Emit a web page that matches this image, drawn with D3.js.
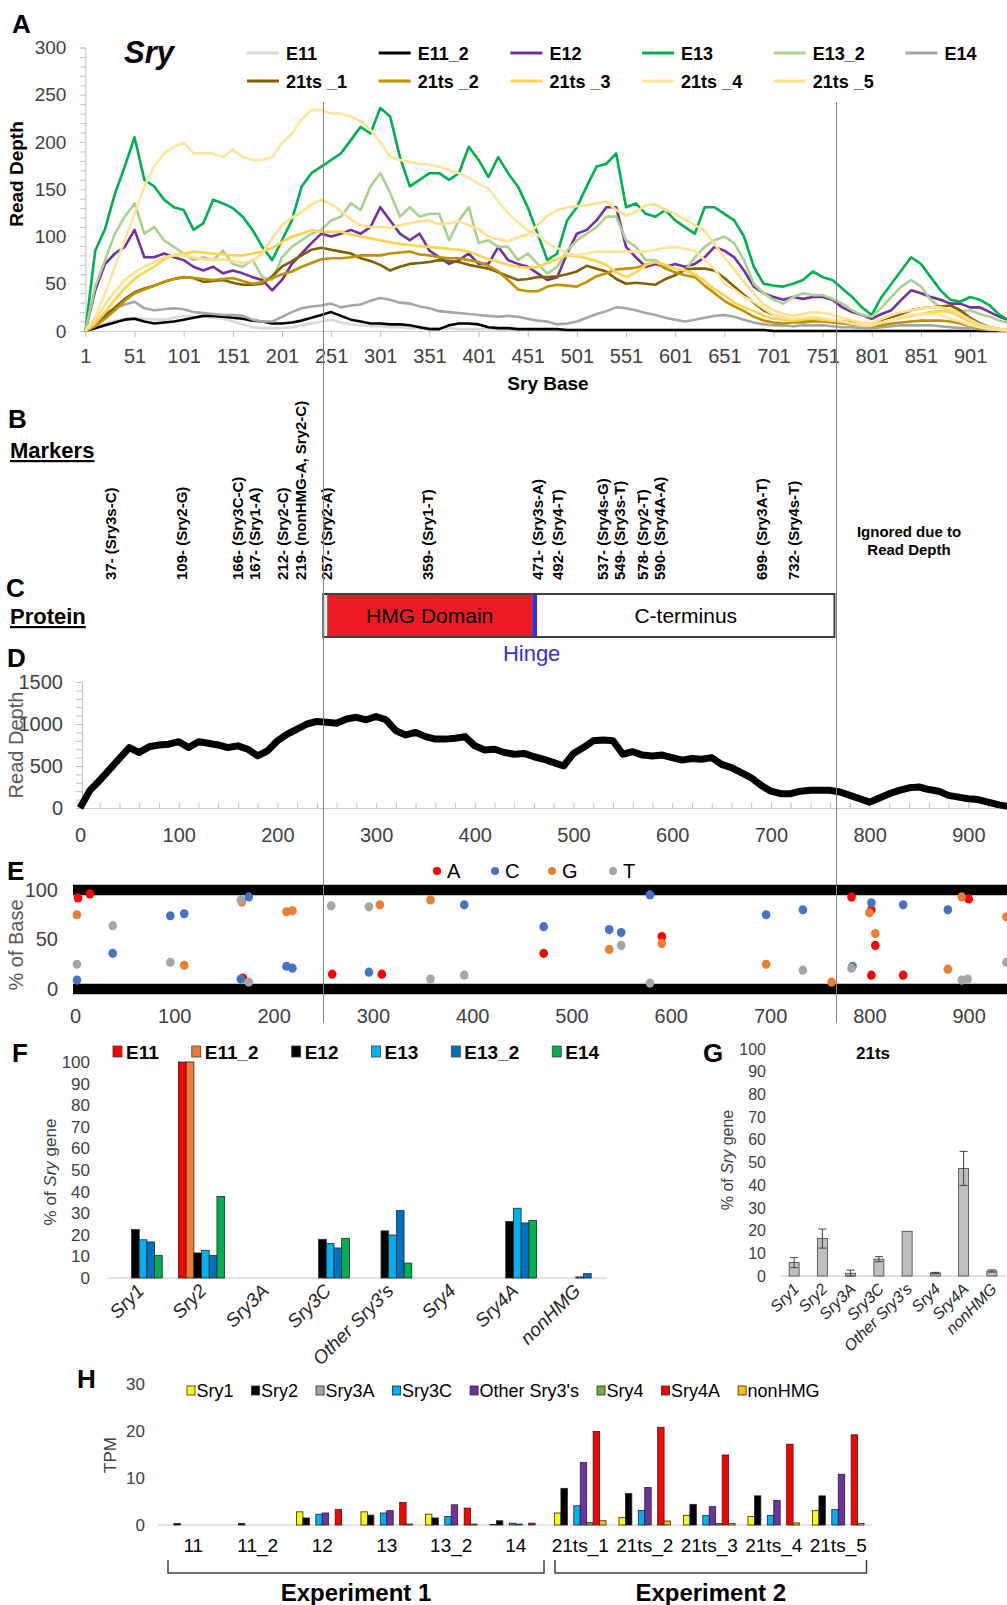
<!DOCTYPE html>
<html><head><meta charset="utf-8">
<script src="https://cdn.jsdelivr.net/npm/d3@7"></script>
<style>body{margin:0;background:#fff}svg{display:block}</style>
</head><body>
<svg id="c" width="1007" height="1605"></svg>
<script>
// ---------------- DATA ----------------
// Panel A: read depth per sample, sampled every 10 bases (1, 11, ... 941)
const basesA = d3.range(1, 942, 10);
const seriesNamesA = ['E11','E11_2','E12','E13','E13_2','E14','21ts_1','21ts_2','21ts_3','21ts_4','21ts_5'];
const depthE11 = [0,4,8,11,13,14,13,12,12,14,16,15,15,14,13,10,7,4,3,3,3,4,6,8,10,12,9,7,6,5,5,4,4,3,3,3,3,3,2,2,2,2,1,1,1,1,
  1,1,1,1,1,1,1,1,1,1,1,1,1,1,1,1,1,1,1,1,1,1,1,1,0,0,0,0,0,0,0,0,0,0,0,0,0,0,0,0,0,0,0,0,0,0,0,0,0];
const depthE11_2 = [0,3,6,9,12,13,10,8,9,10,12,14,16,16,15,14,13,11,10,8,8,9,11,14,17,20,16,12,10,8,8,7,7,6,4,2,2,6,8,8,7,4,3,3,2,2,2,2,2,1,1,
  1,1,1,1,1,1,1,1,1,1,1,1,1,1,1,1,1,1,1,0,0,0,0,0,0,0,0,0,0,0,0,0,0,0,0,0,0,0,0,0,0,0,0,0];
const depthE12 = [0,43,71,82,89,107,78,78,82,78,75,68,64,68,61,64,61,57,54,43,54,71,82,93,103,100,103,107,103,110,131,117,103,96,103,85,78,71,75,82,71,71,89,75,71,68,61,54,57,82,103,107,117,131,131,89,78,68,71,68,71,68,71,78,89,85,78,64,47,40,36,33,36,34,36,36,33,25,20,17,13,18,22,33,43,40,36,33,29,29,25,25,20,15,11];
const depthE13 = [0,85,108,145,174,205,160,153,139,131,128,107,114,139,135,130,121,107,89,75,96,117,153,167,174,181,188,202,216,209,236,227,184,153,160,167,167,160,167,195,181,163,184,167,153,131,103,75,82,117,131,153,174,177,188,131,135,124,121,128,117,110,103,131,131,124,117,100,68,50,48,47,50,54,63,57,54,45,36,25,17,36,50,64,78,71,57,43,33,31,36,33,27,17,11];
const depthE13_2 = [0,47,75,103,121,135,103,110,96,89,82,75,78,75,85,71,68,75,57,54,78,89,96,103,107,117,121,135,128,153,167,146,121,131,121,124,124,96,117,131,93,96,89,89,75,82,71,61,68,85,96,103,110,121,121,96,89,75,75,68,61,64,78,89,96,100,93,75,50,40,33,29,36,40,38,38,34,29,22,17,15,25,36,47,54,47,33,25,22,20,22,18,15,11,8];
const depthE14 = [0,10,18,24,28,31,24,22,23,24,23,20,19,18,17,17,16,12,10,10,15,20,24,26,27,29,25,27,28,32,35,33,30,29,26,24,21,20,19,18,17,16,15,16,15,13,11,10,7,8,10,14,18,21,25,24,22,19,17,14,12,10,12,14,16,17,15,12,9,7,6,6,5,6,6,6,5,4,4,3,3,4,5,6,6,6,6,5,4,3,3,2,1,1,0];
const depth21ts_1 = [0,6,16,25,34,41,45,48,52,55,57,56,52,53,54,51,49,49,50,58,68,74,80,86,88,86,84,82,77,74,70,64,68,71,72,73,75,74,73,70,68,66,62,58,54,55,57,57,58,60,63,69,66,63,55,50,51,50,49,55,59,65,66,66,64,56,47,38,30,22,17,14,12,11,12,12,11,10,9,8,6,10,14,18,22,24,25,26,27,22,14,8,4,2,1];
const depth21ts_2 = [0,5,13,22,32,40,44,48,52,55,57,56,55,54,55,56,53,50,52,56,60,63,68,72,76,77,77,78,80,80,80,82,83,84,81,80,78,77,77,75,73,69,63,54,44,42,42,47,49,48,47,52,58,61,65,66,67,70,73,66,62,59,57,48,40,32,26,21,15,11,9,8,9,9,10,10,9,8,7,6,5,6,8,9,10,11,11,11,10,8,5,3,2,1,0];
const depth21ts_3 = [0,8,20,33,45,55,62,68,76,80,82,84,83,82,81,80,80,82,84,88,94,100,103,107,105,105,105,102,100,98,96,94,92,91,90,89,88,87,86,84,80,76,73,70,68,67,68,72,76,80,79,77,74,70,62,57,62,70,73,70,66,64,60,53,44,38,30,25,21,16,13,12,11,12,13,12,11,10,8,7,6,9,12,14,16,18,20,21,20,15,10,6,3,1,0];
const depth21ts_4 = [0,15,40,68,96,124,153,174,188,195,199,188,188,188,184,192,184,181,181,184,199,209,224,234,234,230,230,227,222,213,200,185,181,179,177,176,174,170,167,162,156,151,137,125,115,106,102,93,88,82,80,82,84,84,84,84,84,84,86,88,89,87,85,75,66,50,44,36,31,24,17,14,13,14,15,14,12,10,8,6,6,9,12,15,17,18,18,17,13,10,6,4,2,1,1];
const depth21ts_5 = [0,12,28,42,54,62,68,73,78,80,80,78,76,75,76,74,72,74,82,98,112,120,126,134,139,134,127,118,112,110,110,109,112,114,116,117,113,114,116,112,108,100,97,95,99,102,112,122,128,131,132,133,135,137,128,122,126,133,134,128,124,118,112,106,92,78,65,52,40,28,22,18,16,18,20,19,17,14,11,9,8,13,17,20,22,24,25,25,23,18,12,7,4,2,1];
const ticksA_x = [1,51,101,151,201,251,301,351,401,451,501,551,601,651,701,751,801,851,901];
const ticksA_y = [0,50,100,150,200,250,300];

// Region boundaries (Sry base) and protein domains
const regionBounds = [243, 765];
const proteinParts = [
  {name:'HMG Domain', start:247, end:455.5},
  {name:'Hinge', start:455.5, end:460.5},
  {name:'C-terminus', start:460.5, end:763}
];
const proteinBox = [243, 763];

// Panel B markers
const markerBases = [37,109,166,167,212,219,257,359,471,492,537,549,578,590,699,732];
const markerLabels = ['37- (Sry3s-C)','109- (Sry2-G)','166- (Sry3C-C)','167- (Sry1-A)','212- (Sry2-C)','219- (nonHMG-A, Sry2-C)','257- (Sry2-A)','359- (Sry1-T)','471- (Sry3s-A)','492- (Sry4-T)','537- (Sry4s-G)','549- (Sry3s-T)','578- (Sry2-T)','590- (Sry4A-A)','699- (Sry3A-T)','732- (Sry4s-T)'];

// Panel D: total read depth, every 10 bases (0..940)
const basesD = d3.range(0, 941, 10);
const depthTotal = [0,210,330,460,590,720,660,730,750,760,790,720,790,770,750,720,740,700,620,680,800,880,940,1000,1030,1020,1010,1060,1080,1050,1090,1050,920,870,900,850,820,820,830,850,740,690,700,660,640,650,610,580,540,500,650,720,800,810,800,640,670,630,620,630,600,570,590,580,600,520,480,420,360,270,200,170,170,200,210,210,210,190,150,110,70,120,170,210,240,250,220,200,150,130,110,100,70,40,20];
const ticksD_y = [0,500,1000,1500];
const ticksD_x = [0,100,200,300,400,500,600,700,800,900];

// Panel E: % of base (points: [base, percent])
const baseNames = ['A','C','G','T'];
const pctA = [[3,92],[15,96],[169,11],[259,15],[309,15],[472,36],[591,53],[782,93],[802,80],[806,44],[802,14],[834,14],[900,91]];
const pctC = [[2,9],[38,36],[96,74],[110,76],[167,10],[175,93],[213,23],[219,21],[296,17],[392,85],[472,63],[538,60],[550,57],[579,95],[696,75],[733,80],[783,23],[802,87],[834,85],[879,80]];
const pctG = [[2,75],[110,24],[168,88],[213,78],[219,79],[307,85],[358,90],[538,40],[591,46],[696,25],[762,7],[800,77],[806,56],[879,20],[893,93],[938,73]];
const pctT = [[2,25],[38,64],[96,27],[167,90],[175,7],[258,84],[296,83],[358,10],[392,14],[550,44],[579,6],[733,19],[782,21],[893,9],[899,10],[938,27]];
const bandLevels = [0, 100];
const ticksE_y = [0,50,100];

// Panel F: % of Sry gene per isoform
const isoforms = ['Sry1','Sry2','Sry3A','Sry3C',"Other Sry3's",'Sry4','Sry4A','nonHMG'];
const stagesF = ['E11','E11_2','E12','E13','E13_2','E14'];
const pctE11   = [0,100,0,0,0,0,0,0];
const pctE11_2 = [0,100,0,0,0,0,0,0];
const pctE12   = [22.4,11.6,0,17.9,21.8,0,26.2,0];
const pctE13   = [17.7,12.8,0,16.0,19.9,0,32.3,0.5];
const pctE13_2 = [16.7,10.5,0,13.9,31.2,0,25.5,2.0];
const pctE14   = [10.5,37.8,0,18.4,6.9,0,26.7,0];
const ticksF = [0,10,20,30,40,50,60,70,80,90,100];

// Panel G: 21ts mean and error
const pct21ts = [5.9,16.5,1.2,7.4,19.7,1.3,47.4,2.2];
const err21ts = [2.2,4.2,1.4,1.1,0,0.3,7.5,0.5];

// Panel H: TPM
const samplesH = ['11','11_2','12','13','13_2','14','21ts_1','21ts_2','21ts_3','21ts_4','21ts_5'];
const tpmSry1   = [0,0,2.8,2.8,2.3,0.1,2.55,1.55,2.05,1.8,3.05];
const tpmSry2   = [0.3,0.3,1.5,2.1,1.5,0.9,7.8,6.7,4.4,6.2,6.2];
const tpmSry3A  = [0,0,0,0,0,0,0,0,0,0,0];
const tpmSry3C  = [0,0,2.3,2.55,1.8,0.4,4.1,3.1,2.05,2.05,3.3];
const tpmOther  = [0,0,2.55,3.05,4.3,0.2,13.3,8.0,3.9,5.2,10.8];
const tpmSry4   = [0,0,0,0,0,0,0.5,0,0.3,0,0];
const tpmSry4A  = [0,0,3.3,4.8,3.6,0.4,19.9,20.8,14.9,17.2,19.2];
const tpmNonHMG = [0,0,0,0.2,0.2,0,0.9,0.85,0.3,0.45,0.3];
const ticksH = [0,10,20,30];
const experiments = [{name:'Experiment 1', from:'11', to:'14'},{name:'Experiment 2', from:'21ts_1', to:'21ts_5'}];

// ---------------- STYLES ----------------
const FONT = '"Liberation Sans", Arial, Helvetica, sans-serif';
const TICK = '#404040';
const colorsA = {'E11':'#d9d9d9','E11_2':'#000000','E12':'#7030a0','E13':'#00b050','E13_2':'#a9d18e','E14':'#a5a5a5',
  '21ts_1':'#7f6000','21ts_2':'#bf9000','21ts_3':'#ffd34f','21ts_4':'#ffe49c','21ts_5':'#ffe08c'};
const colorsBase = {A:'#ff0000',C:'#4472c4',G:'#ed7d31',T:'#a5a5a5'};
const colorsF = {'E11':'#ff0000','E11_2':'#ed7d31','E12':'#000000','E13':'#00b0f0','E13_2':'#0070c0','E14':'#00b050'};
const colorsH = {'Sry1':'#ffff00','Sry2':'#000000','Sry3A':'#a5a5a5','Sry3C':'#00b0f0',"Other Sry3's":'#7030a0','Sry4':'#70ad47','Sry4A':'#ff0000','nonHMG':'#ffc000'};

const svg = d3.select('#c').attr('font-family', FONT);
const fmt = d3.format('d');

function txt(g, x, y, s, o = {}) {
  const t = g.append('text').attr('x', x).attr('y', y).text(s)
    .attr('font-size', o.size || 16).attr('fill', o.fill || '#000')
    .attr('text-anchor', o.anchor || 'start');
  if (o.weight) t.attr('font-weight', o.weight);
  if (o.style) t.attr('font-style', o.style);
  if (o.dy) t.attr('dy', o.dy);
  if (o.deco) t.attr('text-decoration', o.deco);
  if (o.transform) t.attr('transform', o.transform);
  return t;
}
function styleAxis(g, size, opts = {}) {
  g.attr('font-family', FONT).attr('font-size', size).attr('color', opts.color || TICK);
  if (opts.noDomain) g.select('.domain').remove();
  else g.select('.domain').attr('stroke', opts.domainColor || '#bfbfbf').attr('stroke-width', opts.domainWidth || 1);
  g.selectAll('.tick line').attr('stroke', opts.tickColor || '#bfbfbf');
}
// panel letters
const letters = [['A',12,33],['B',8,428],['C',6,597],['D',7,667],['E',7,880],['F',12,1062],['G',703,1062],['H',77,1388]];
letters.forEach(([l,x,y]) => txt(svg, x, y, l, {size:26, weight:'bold'}));

// ---------------- PANEL A ----------------
const xA = d3.scaleLinear().domain([1, 941]).range([85.4, 1009.4]);
const yA = d3.scaleLinear().domain([0, 300]).range([331, 47.5]);
const gA = svg.append('g');
gA.append('g').attr('transform', `translate(${xA(1)},0)`)
  .call(d3.axisLeft(yA).tickValues(d3.range(0, 301, 10)).tickSize(5).tickFormat(''))
  .call(g => styleAxis(g, 19));
gA.append('g').attr('transform', `translate(${xA(1)},0)`)
  .call(d3.axisLeft(yA).tickValues(ticksA_y).tickSize(0).tickPadding(19).tickFormat(fmt))
  .call(g => styleAxis(g, 19, {noDomain:true}));
gA.append('g').attr('transform', `translate(0,${yA(0)})`)
  .call(d3.axisBottom(xA).tickValues(ticksA_x).tickSize(6).tickSizeOuter(0).tickPadding(12).tickFormat(fmt))
  .call(g => styleAxis(g, 20, {domainColor:'#d0d0d0'}));
txt(gA, 548, 390, 'Sry Base', {size:19, weight:'bold', anchor:'middle'});
txt(gA, 0, 0, 'Read Depth', {size:19, weight:'bold', anchor:'middle', transform:'translate(23,174) rotate(-90)'});
txt(gA, 124, 63, 'Sry', {size:31, weight:'bold', style:'italic'});

const depthA = {'E11':depthE11,'E11_2':depthE11_2,'E12':depthE12,'E13':depthE13,'E13_2':depthE13_2,'E14':depthE14,
  '21ts_1':depth21ts_1,'21ts_2':depth21ts_2,'21ts_3':depth21ts_3,'21ts_4':depth21ts_4,'21ts_5':depth21ts_5};
const lineA = d3.line().x((d, i) => xA(basesA[i])).y(d => yA(d)).curve(d3.curveLinear);
seriesNamesA.forEach(n => {
  gA.append('path').attr('d', lineA(depthA[n])).attr('fill', 'none')
    .attr('stroke', colorsA[n]).attr('stroke-width', 2.6).attr('stroke-linejoin', 'round');
});
// legend A
seriesNamesA.forEach((n, i) => {
  const col = i < 6 ? i : i - 6, row = i < 6 ? 0 : 1;
  const x = 247 + col * 131.7, y = 53 + row * 28;
  gA.append('line').attr('x1', x).attr('x2', x + 32).attr('y1', y).attr('y2', y)
    .attr('stroke', colorsA[n]).attr('stroke-width', 3);
  txt(gA, x + 39, y + 7, n.startsWith('21ts') ? n.replace('_', ' _') : n, {size:18, weight:'bold'});
});

// ---------------- PANEL B ----------------
const gB = svg.append('g');
txt(gB, 10, 458, 'Markers', {size:22, weight:'bold', deco:'underline'});
let lastX = -100;
const markerX = markerBases.map(b => {
  let x = xA(b) - 10;
  if (x < lastX + 17.5) x = lastX + 17.5;
  lastX = x;
  return x;
});
markerLabels.forEach((s, i) => {
  txt(gB, 0, 0, s, {size:15, weight:'bold', dy:'0.35em', transform:`translate(${markerX[i]},580) rotate(-90)`});
});
txt(gB, 909, 537, 'Ignored due to', {size:15, weight:'bold', anchor:'middle'});
txt(gB, 909, 555, 'Read Depth', {size:15, weight:'bold', anchor:'middle'});

// ---------------- PANEL C ----------------
const gC = svg.append('g');
txt(gC, 10, 624, 'Protein', {size:22, weight:'bold', deco:'underline'});
gC.append('rect').attr('x', xA(proteinBox[0])).attr('y', 594).attr('width', xA(proteinBox[1]) - xA(proteinBox[0]))
  .attr('height', 43).attr('fill', '#fff').attr('stroke', '#404040').attr('stroke-width', 2);
const partFill = {'HMG Domain':'#ed1c24', 'Hinge':'#3333cc', 'C-terminus':'none'};
proteinParts.forEach(p => {
  if (partFill[p.name] !== 'none')
    gC.append('rect').attr('x', xA(p.start)).attr('y', 595).attr('width', xA(p.end) - xA(p.start))
      .attr('height', 41).attr('fill', partFill[p.name]);
});
txt(gC, (xA(proteinParts[0].start) + xA(proteinParts[0].end)) / 2, 623, 'HMG Domain', {size:21, anchor:'middle'});
txt(gC, (xA(proteinParts[2].start) + xA(proteinParts[2].end)) / 2, 623, 'C-terminus', {size:21, anchor:'middle'});
txt(gC, (xA(proteinParts[1].start) + xA(proteinParts[1].end)) / 2 - 3, 661, 'Hinge', {size:22, anchor:'middle', fill:'#3333cc'});

// ---------------- PANEL D ----------------
const xD = d3.scaleLinear().domain([0, 940]).range([80, 1007.8]);
const yD = d3.scaleLinear().domain([0, 1500]).range([808, 682]);
const gD = svg.append('g');
gD.append('g').attr('transform', `translate(82,0)`)
  .call(d3.axisLeft(yD).tickValues(d3.range(0, 1501, 100)).tickSize(6).tickFormat(''))
  .call(g => styleAxis(g, 20));
gD.append('g').attr('transform', `translate(82,0)`)
  .call(d3.axisLeft(yD).tickValues(ticksD_y).tickSize(0).tickPadding(19).tickFormat(fmt))
  .call(g => styleAxis(g, 20, {noDomain:true}));
gD.append('g').attr('transform', `translate(0,${yD(0)})`)
  .call(d3.axisBottom(xD).tickValues(d3.range(0, 941, 20)).tickSize(-5).tickSizeOuter(0).tickFormat(''))
  .call(g => styleAxis(g, 20, {domainColor:'#c8c8c8'}));
gD.append('g').attr('transform', `translate(0,${yD(0)})`)
  .call(d3.axisBottom(xD).tickValues(ticksD_x).tickSize(0).tickPadding(20).tickFormat(fmt))
  .call(g => styleAxis(g, 20, {noDomain:true}));
gD.append('path').attr('d', d3.line().x((d, i) => xD(basesD[i])).y(d => yD(d))(depthTotal))
  .attr('fill', 'none').attr('stroke', '#000').attr('stroke-width', 7).attr('stroke-linejoin', 'round');
txt(gD, 0, 0, 'Read  Depth', {size:20, fill:'#595959', anchor:'middle', transform:'translate(23,745) rotate(-90)'});

// ---------------- PANEL E ----------------
const xE = d3.scaleLinear().domain([0, 940]).range([75, 1008.4]);
const yE = d3.scaleLinear().domain([0, 100]).range([989, 890]);
const gE = svg.append('g');
gE.append('g').attr('transform', `translate(75,0)`)
  .call(d3.axisLeft(yE).tickValues(ticksE_y).tickSize(0).tickPadding(17).tickFormat(fmt))
  .call(g => styleAxis(g, 20, {noDomain:true}));
gE.append('g').attr('transform', `translate(0,${yE(0)})`)
  .call(d3.axisBottom(xE).tickValues(ticksD_x).tickSize(0).tickPadding(20).tickFormat(fmt))
  .call(g => styleAxis(g, 20, {noDomain:true}));
bandLevels.forEach(v => {
  gE.append('line').attr('x1', xE(0) - 2).attr('x2', xE(940)).attr('y1', yE(v)).attr('y2', yE(v))
    .attr('stroke', '#000').attr('stroke-width', 10.5);
});
const pctByBase = {A:pctA, C:pctC, G:pctG, T:pctT};
baseNames.forEach(b => {
  gE.selectAll(null).data(pctByBase[b]).enter().append('ellipse')
    .attr('cx', d => xE(d[0])).attr('cy', d => yE(d[1])).attr('rx', 4.3).attr('ry', 4.6)
    .attr('fill', colorsBase[b]);
});
baseNames.forEach((b, i) => {
  const x = [437, 495, 552, 613][i];
  gE.append('circle').attr('cx', x).attr('cy', 871).attr('r', 4).attr('fill', colorsBase[b]);
  txt(gE, x + 10, 878, b, {size:20});
});
txt(gE, 0, 0, '% of Base', {size:20, fill:'#595959', anchor:'middle', transform:'translate(23,945) rotate(-90)'});

// region guide lines (on top)
regionBounds.forEach(b => {
  svg.append('line').attr('x1', Math.round(xA(b)) + 0.5).attr('x2', Math.round(xA(b)) + 0.5)
    .attr('y1', 102).attr('y2', 1023).attr('stroke', '#808080').attr('stroke-width', 1);
});

// ---------------- PANEL F ----------------
const gF = svg.append('g');
const yF = d3.scaleLinear().domain([0, 100]).range([1278, 1062]);
const x0F = d3.scaleBand().domain(isoforms).range([108, 607]).paddingInner(0.26).paddingOuter(0.13);
const x1F = d3.scaleBand().domain(stagesF).range([0, x0F.bandwidth()]);
const pctF = {'E11':pctE11,'E11_2':pctE11_2,'E12':pctE12,'E13':pctE13,'E13_2':pctE13_2,'E14':pctE14};
gF.append('g').attr('transform', `translate(108,0)`)
  .call(d3.axisLeft(yF).tickValues(ticksF).tickSize(0).tickPadding(18).tickFormat(fmt))
  .call(g => styleAxis(g, 17, {noDomain:true}));
gF.append('line').attr('x1', 108).attr('x2', 607).attr('y1', yF(0)).attr('y2', yF(0)).attr('stroke', '#d9d9d9').attr('stroke-width', 1.5);
stagesF.forEach(s => {
  isoforms.forEach((c, i) => {
    const v = pctF[s][i];
    if (v <= 0) return;
    gF.append('rect').attr('x', x0F(c) + x1F(s)).attr('y', yF(v)).attr('width', x1F.bandwidth())
      .attr('height', yF(0) - yF(v)).attr('fill', colorsF[s]).attr('stroke', '#262626').attr('stroke-width', 0.8);
  });
});
isoforms.forEach(c => {
  txt(gF, 0, 0, c, {size:19, style:'italic', anchor:'end', fill:'#262626',
    transform:`translate(${x0F(c) + x0F.bandwidth() / 2 + 6},1292) rotate(-45)`});
});
{
  const t = gF.append('text').attr('transform', 'translate(56,1172) rotate(-90)').attr('text-anchor', 'middle')
    .attr('font-size', 17).attr('fill', '#404040');
  t.append('tspan').text('% of ');
  t.append('tspan').attr('font-style', 'italic').text('Sry');
  t.append('tspan').text(' gene');
}
// legend F (flowing)
{
  let x = 113;
  stagesF.forEach(s => {
    gF.append('rect').attr('x', x).attr('y', 1046).attr('width', 9).attr('height', 11)
      .attr('fill', colorsF[s]).attr('stroke', '#404040').attr('stroke-width', 0.8);
    const t = txt(gF, x + 13, 1059, s, {size:19, weight:'bold'});
    x = x + 13 + t.node().getComputedTextLength() + 33;
  });
}

// ---------------- PANEL G ----------------
const gG = svg.append('g');
const yG = d3.scaleLinear().domain([0, 100]).range([1276, 1049]);
const xG = d3.scaleBand().domain(isoforms).range([780, 1006]);
gG.append('g').attr('transform', `translate(780,0)`)
  .call(d3.axisLeft(yG).tickValues(ticksF).tickSize(0).tickPadding(14).tickFormat(fmt))
  .call(g => styleAxis(g, 16, {noDomain:true}));
gG.append('line').attr('x1', 780).attr('x2', 1006).attr('y1', yG(0)).attr('y2', yG(0)).attr('stroke', '#d9d9d9').attr('stroke-width', 1.5);
isoforms.forEach((c, i) => {
  const cx = xG(c) + xG.bandwidth() / 2, v = pct21ts[i], e = err21ts[i];
  gG.append('rect').attr('x', cx - 5).attr('y', yG(v)).attr('width', 10).attr('height', yG(0) - yG(v))
    .attr('fill', '#bfbfbf').attr('stroke', '#404040').attr('stroke-width', 0.8);
  if (e > 0) {
    gG.append('line').attr('x1', cx).attr('x2', cx).attr('y1', yG(Math.max(0, v - e))).attr('y2', yG(v + e)).attr('stroke', '#404040');
    [v - e, v + e].forEach(w => gG.append('line').attr('x1', cx - 4).attr('x2', cx + 4)
      .attr('y1', yG(Math.max(0, w))).attr('y2', yG(Math.max(0, w))).attr('stroke', '#404040'));
  }
  txt(gG, 0, 0, c, {size:16, style:'italic', anchor:'end', fill:'#262626',
    transform:`translate(${cx + 6},1290) rotate(-45)`});
});
txt(gG, 873, 1059, '21ts', {size:17, weight:'bold', anchor:'middle'});
{
  const t = gG.append('text').attr('transform', 'translate(733,1160) rotate(-90)').attr('text-anchor', 'middle')
    .attr('font-size', 16).attr('fill', '#404040');
  t.append('tspan').text('% of ');
  t.append('tspan').attr('font-style', 'italic').text('Sry');
  t.append('tspan').text(' gene');
}

// ---------------- PANEL H ----------------
const gH = svg.append('g');
const seriesH = ['Sry1','Sry2','Sry3A','Sry3C',"Other Sry3's",'Sry4','Sry4A','nonHMG'];
const tpm = {'Sry1':tpmSry1,'Sry2':tpmSry2,'Sry3A':tpmSry3A,'Sry3C':tpmSry3C,"Other Sry3's":tpmOther,'Sry4':tpmSry4,'Sry4A':tpmSry4A,'nonHMG':tpmNonHMG};
const yH = d3.scaleLinear().domain([0, 30]).range([1525, 1384]);
const x0H = d3.scaleBand().domain(samplesH).range([161, 870.5]).paddingInner(0.2).paddingOuter(0.1);
const x1H = d3.scaleBand().domain(seriesH).range([0, x0H.bandwidth()]);
gH.append('g').attr('transform', `translate(161,0)`)
  .call(d3.axisLeft(yH).tickValues(ticksH).tickSize(0).tickPadding(16).tickFormat(fmt))
  .call(g => styleAxis(g, 17, {noDomain:true}));
gH.append('line').attr('x1', 158).attr('x2', 872).attr('y1', yH(0)).attr('y2', yH(0)).attr('stroke', '#d9d9d9').attr('stroke-width', 1.5);
seriesH.forEach(s => {
  samplesH.forEach((c, i) => {
    const v = tpm[s][i];
    if (v <= 0) return;
    gH.append('rect').attr('x', x0H(c) + x1H(s)).attr('y', yH(v)).attr('width', x1H.bandwidth())
      .attr('height', yH(0) - yH(v)).attr('fill', colorsH[s]).attr('stroke', '#262626').attr('stroke-width', 0.8);
  });
});
samplesH.forEach(c => txt(gH, x0H(c) + x0H.bandwidth() / 2, 1552, c, {size:19, anchor:'middle'}));
txt(gH, 0, 0, 'TPM', {size:17, fill:'#404040', anchor:'middle', transform:'translate(116,1455) rotate(-90)'});
{
  let x = 187;
  seriesH.forEach(s => {
    gH.append('rect').attr('x', x).attr('y', 1386).attr('width', 8).attr('height', 9)
      .attr('fill', colorsH[s]).attr('stroke', '#262626').attr('stroke-width', 0.8);
    const t = txt(gH, x + 9.5, 1396.5, s, {size:18});
    x = x + 9.5 + t.node().getComputedTextLength() + 18;
  });
}
experiments.forEach(ex => {
  const a = x0H(ex.from) - x0H.step() * 0.1 + 7, b = x0H(ex.to) + x0H.bandwidth() + x0H.step() * 0.1 - 4;
  gH.append('path').attr('d', `M${a},1560V1573H${b}V1560`).attr('fill', 'none').attr('stroke', '#404040').attr('stroke-width', 1.5);
  txt(gH, (a + b) / 2, 1601, ex.name, {size:24, weight:'bold', anchor:'middle'});
});
</script>
</body></html>
